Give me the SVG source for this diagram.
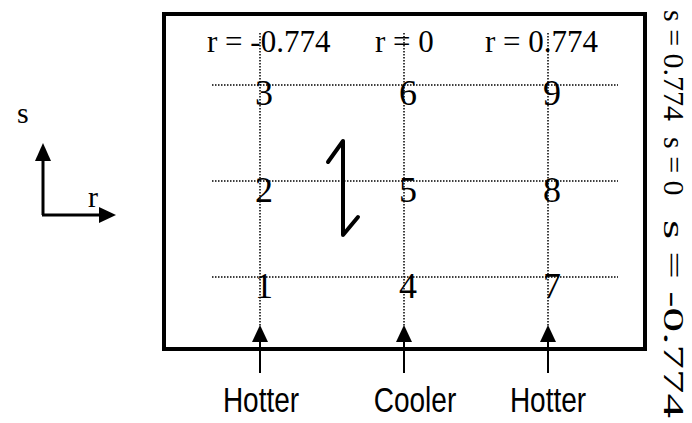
<svg xmlns="http://www.w3.org/2000/svg" width="692" height="423" viewBox="0 0 692 423">
<style>
.serif{font-family:"Liberation Serif","Times New Roman",serif;fill:#000}
.sans{font-family:"Liberation Sans",Arial,sans-serif;fill:#000}
.dot{stroke:#000;stroke-width:1.5;stroke-dasharray:1.5 1.5;fill:none}
.arr{stroke:#000;stroke-width:2;fill:none}
.thick{stroke:#000;stroke-width:3;fill:none}
</style>
<rect id="box" x="164" y="14" width="481" height="335" fill="none" stroke="#000" stroke-width="4"/>
<g id="grid">
<line class="dot" x1="260" y1="33" x2="260" y2="326"/>
<line class="dot" x1="404" y1="33" x2="404" y2="326"/>
<line class="dot" x1="548" y1="33" x2="548" y2="326"/>
<line class="dot" x1="212" y1="85" x2="618" y2="85"/>
<line class="dot" x1="212" y1="181" x2="618" y2="181"/>
<line class="dot" x1="212" y1="277" x2="618" y2="277"/>
</g>
<g id="top-labels" class="serif" font-size="31">
<text x="207" y="52">r = -0.774</text>
<text x="375" y="52">r = 0</text>
<text x="485" y="52">r = 0.774</text>
</g>
<g id="points" class="serif" font-size="36" text-anchor="middle">
<g id="p3"><text x="264" y="105">3</text></g>
<g id="p6"><text x="408" y="105">6</text></g>
<g id="p9"><text x="552" y="105">9</text></g>
<g id="p2"><text x="264" y="202">2</text></g>
<g id="p5"><text x="408" y="202">5</text></g>
<g id="p8"><text x="552" y="202">8</text></g>
<g id="p1"><text x="264" y="298">1</text></g>
<g id="p4"><text x="408" y="298">4</text></g>
<g id="p7"><text x="552" y="298">7</text></g>
</g>
<g id="connectors">
<polyline points="328,162 343,141 343,235 358,217" stroke="#000" stroke-width="4" fill="none" stroke-linecap="round" stroke-linejoin="round"/>
<line class="arr" x1="260" y1="373" x2="260" y2="340"/>
<polygon points="260,325 252,342 268,342"/>
<line class="arr" x1="404" y1="373" x2="404" y2="340"/>
<polygon points="404,325 396,342 412,342"/>
<line class="arr" x1="548" y1="373" x2="548" y2="340"/>
<polygon points="548,325 540,342 556,342"/>
<line class="thick" x1="43" y1="215" x2="43" y2="158"/>
<polygon points="43,143 35,161 51,161"/>
<line class="thick" x1="42" y1="215" x2="102" y2="215"/>
<polygon points="116,215 99,207 99,223"/>
</g>
<g id="axis-labels" class="serif" font-size="30">
<text x="17" y="123">s</text>
<text x="88" y="207">r</text>
</g>
<g id="bottom-labels" class="sans" font-size="35" text-anchor="middle">
<text transform="translate(261,412) scale(0.8,1)">Hotter</text>
<text transform="translate(415,412) scale(0.8,1)">Cooler</text>
<text transform="translate(548,412) scale(0.8,1)">Hotter</text>
</g>
<g id="s-labels" class="serif" font-size="30">
<text transform="translate(664,10) rotate(90)">s = 0.774</text>
<text transform="translate(664,137) rotate(90)">s = 0</text>
<text transform="translate(664,220) rotate(90)" textLength="198" lengthAdjust="spacingAndGlyphs">s = -0.774</text>
</g>
</svg>
